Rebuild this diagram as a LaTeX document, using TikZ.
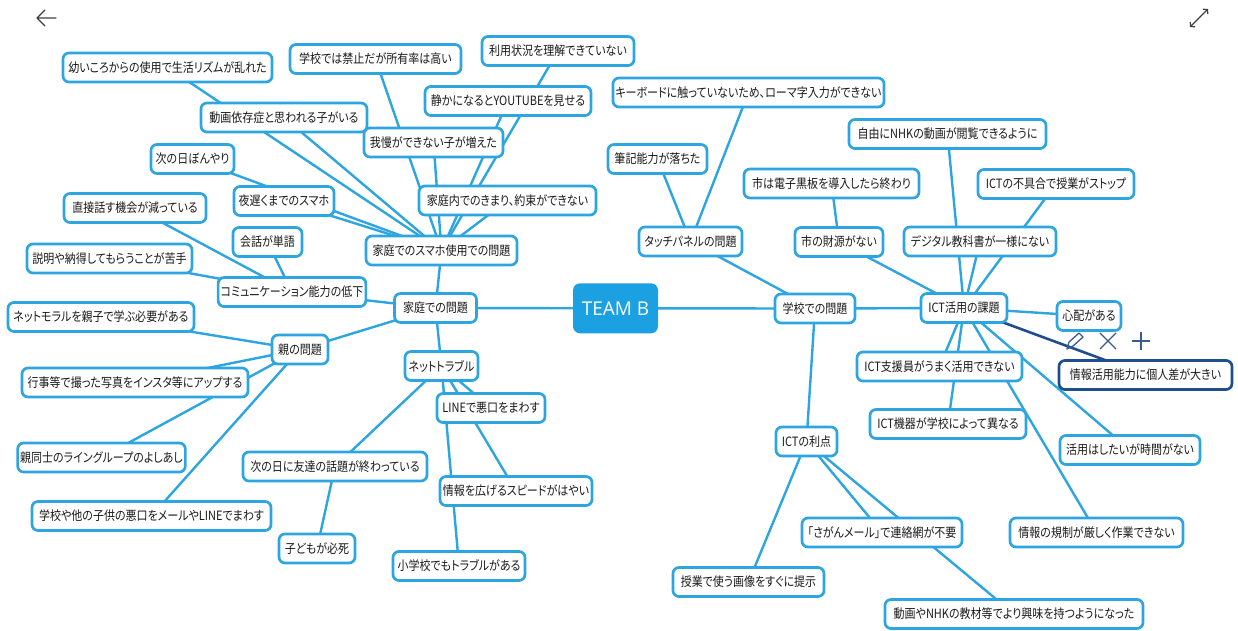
\documentclass[tikz,border=0pt]{standalone}
\usepackage{fontspec}
\setmainfont{Noto Sans CJK JP}[RawFeature=+palt, FakeStretch=0.86]
\newfontfamily\teamfont{Open Sans}
\usetikzlibrary{backgrounds,arrows.meta}
\definecolor{lb}{HTML}{2DA5E1}
\definecolor{teamblue}{HTML}{1BA1E2}
\definecolor{navy}{HTML}{1F4E8C}
\definecolor{iconc}{HTML}{3B5B8C}
\definecolor{tx}{HTML}{1A1A1A}
\begin{document}
\begin{tikzpicture}[x=1pt,y=-1pt,
  box/.style={draw=lb, line width=2.7pt, rounded corners=6pt, fill=white,
    minimum height=29pt, inner xsep=2.5pt, inner ysep=2pt, text=tx,
    font=\fontsize{12.8}{14}\selectfont},
  selbox/.style={box, draw=navy},
  conn/.style={draw=lb, line width=2.4pt},
  selconn/.style={draw=navy, line width=2.6pt},
  teambox/.style={fill=teamblue, rounded corners=7pt, minimum width=85pt,
    minimum height=50pt, text=white, font=\teamfont\fontsize{19}{22}\selectfont},
  icon/.style={draw=iconc, line width=1.3pt}]
\useasboundingbox (0,0) rectangle (1238,630);

% centre
\node[teambox] (team) at (615.5,308.3) {TEAM B};

% left side
\node[box, minimum width=82pt] (n1) at (435.5,308) {家庭での問題};
\node[box, minimum width=151pt] (n2) at (441.5,250.5) {家庭でのスマホ使用での問題};
\node[box, minimum width=177pt] (n3) at (507.5,200.5) {家庭内でのきまり、約束ができない};
\node[box, minimum width=139pt] (n4) at (433.5,142.5) {我慢ができない子が増えた};
\node[box, minimum width=166pt] (n5) at (508,101) {静かになるとYOUTUBEを見せる};
\node[box, minimum width=152pt] (n6) at (558,51) {利用状況を理解できていない};
\node[box, minimum width=171pt] (n7) at (375.5,59) {学校では禁止だが所有率は高い};
\node[box, minimum width=166pt] (n8) at (284,117.5) {動画依存症と思われる子がいる};
\node[box, minimum width=209pt] (n9) at (167.5,67.5) {幼いころからの使用で生活リズムが乱れた};
\node[box, minimum width=83pt] (n10) at (192.5,159) {次の日ぼんやり};
\node[box, minimum width=100pt] (n11) at (284,201) {夜遅くまでのスマホ};
\node[box, minimum width=142pt] (n12) at (135,208) {直接話す機会が減っている};
\node[box, minimum width=69pt] (n13) at (267.5,242) {会話が単語};
\node[box, minimum width=165pt] (n14) at (109.5,258.5) {説明や納得してもらうことが苦手};
\node[box, minimum width=146pt] (n15) at (292,292) {コミュニケーション能力の低下};
\node[box, minimum width=186pt] (n16) at (101,317) {ネットモラルを親子で学ぶ必要がある};
\node[box, minimum width=56pt] (n17) at (300,349.5) {親の問題};
\node[box, minimum width=226pt] (n18) at (135,382.5) {行事等で撮った写真をインスタ等にアップする};
\node[box, minimum width=167pt] (n19) at (101.5,457.5) {親同士のライングループのよしあし};
\node[box, minimum width=239pt] (n20) at (151.5,516) {学校や他の子供の悪口をメールやLINEでまわす};
\node[box, minimum width=76pt] (n21) at (317,548.5) {子どもが必死};
\node[box, minimum width=184pt] (n22) at (335,466.5) {次の日に友達の話題が終わっている};
\node[box, minimum width=73pt] (n23) at (441.5,366) {ネットトラブル};
\node[box, minimum width=108pt] (n24) at (491,408) {LINEで悪口をまわす};
\node[box, minimum width=152pt] (n25) at (516,491) {情報を広げるスピードがはやい};
\node[box, minimum width=132pt] (n26) at (459,566) {小学校でもトラブルがある};

% right side
\node[box, minimum width=80pt] (r1) at (815,308.5) {学校での問題};
\node[box, minimum width=103pt] (r2) at (690.5,241.5) {タッチパネルの問題};
\node[box, minimum width=99pt] (r3) at (657.5,159) {筆記能力が落ちた};
\node[box, minimum width=267pt] (r4) at (748.5,92.5) {キーボードに触っていないため、ローマ字入力ができない};
\node[box, minimum width=175pt] (r5) at (831.5,183.5) {市は電子黒板を導入したら終わり};
\node[box, minimum width=88pt] (r6) at (839,242) {市の財源がない};
\node[box, minimum width=197pt] (r7) at (947.5,134) {自由にNHKの動画が閲覧できるように};
\node[box, minimum width=156pt] (r8) at (1056,184) {ICTの不具合で授業がストップ};
\node[box, minimum width=152pt] (r9) at (980,241.5) {デジタル教科書が一様にない};
\node[box, minimum width=86pt] (r10) at (964,308) {ICT活用の課題};
\node[box, minimum width=64pt] (r11) at (1089,316) {心配がある};
\node[selbox, minimum width=173pt] (r12) at (1145.5,375) {情報活用能力に個人差が大きい};
\node[box, minimum width=165pt] (r13) at (939.5,366.5) {ICT支援員がうまく活用できない};
\node[box, minimum width=156pt] (r14) at (948,424) {ICT機器が学校によって異なる};
\node[box, minimum width=140pt] (r15) at (1130,450) {活用はしたいが時間がない};
\node[box, minimum width=173pt] (r16) at (1096.5,532.5) {情報の規制が厳しく作業できない};
\node[box, minimum width=258pt] (r17) at (1014,614) {動画やNHKの教材等でより興味を持つようになった};
\node[box, minimum width=61pt] (r18) at (806.5,441.5) {ICTの利点};
\node[box, minimum width=160pt] (r19) at (882,532.5) {「さがんメール」で連絡網が不要};
\node[box, minimum width=151pt] (r20) at (748.5,582) {授業で使う画像をすぐに提示};

\begin{pgfonlayer}{background}
  % left connectors
  \draw[conn] (team.center) -- (n1.center);
  \foreach \c in {n2,n15,n17,n23} \draw[conn] (n1.center) -- (\c.center);
  \foreach \c in {n3,n4,n5,n6,n7,n8,n9,n10,n11} \draw[conn] (n2.center) -- (\c.center);
  \foreach \c in {n12,n13,n14} \draw[conn] (n15.center) -- (\c.center);
  \foreach \c in {n16,n18,n19,n20} \draw[conn] (n17.center) -- (\c.center);
  \foreach \c in {n22,n24,n25,n26} \draw[conn] (n23.center) -- (\c.center);
  \draw[conn] (n22.center) -- (n21.center);
  % right connectors
  \draw[conn] (team.center) -- (r1.center);
  \foreach \c in {r2,r10,r18} \draw[conn] (r1.center) -- (\c.center);
  \foreach \c in {r3,r4} \draw[conn] (r2.center) -- (\c.center);
  \draw[conn] (r6.center) -- (r5.center);
  \foreach \c in {r6,r7,r8,r9,r11,r13,r14,r15,r16} \draw[conn] (r10.center) -- (\c.center);
  \draw[selconn] (r10.center) -- (r12.center);
  \foreach \c in {r17,r19,r20} \draw[conn] (r18.center) -- (\c.center);
\end{pgfonlayer}

% toolbar icons of the selected node
\draw[icon, line join=round] (1067,349) -- (1069,342) -- (1079,333) -- (1083,337) -- (1073,346) -- cycle;
\draw[icon] (1100,333) -- (1116,349) (1100,349) -- (1116,333);
\draw[icon] (1141,332) -- (1141,350) (1132,341) -- (1150,341);

% window icons
\draw[draw=black!75, line width=1.3pt, line cap=round, line join=round]
  (56,18) -- (37,18) (45,10) -- (37,18) -- (45,26);
\draw[draw=black!75, line width=1.2pt,
  {Straight Barb[length=3pt,width=7pt]}-{Straight Barb[length=3pt,width=7pt]}]
  (1190,27) -- (1208,9);
\end{tikzpicture}
\end{document}
